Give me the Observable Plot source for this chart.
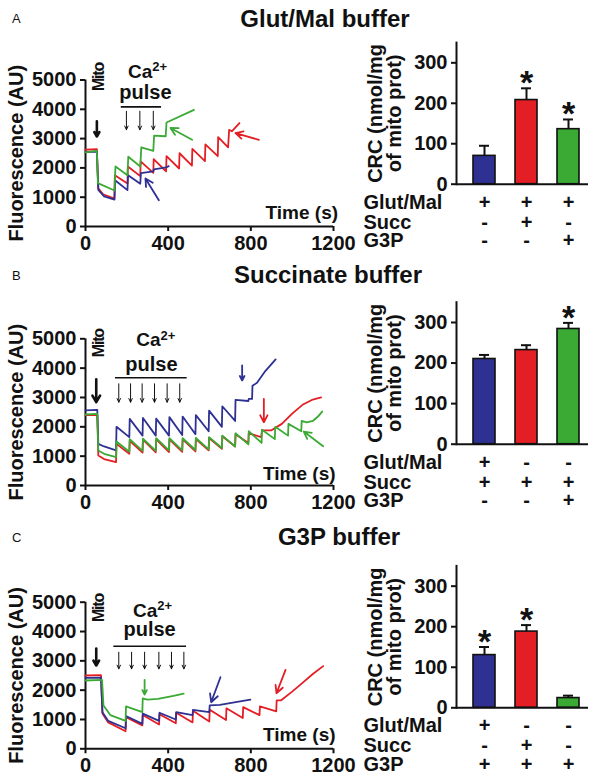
<!DOCTYPE html>
<html><head><meta charset="utf-8">
<script src="https://cdn.jsdelivr.net/npm/d3@7"></script>
<script src="https://cdn.jsdelivr.net/npm/@observablehq/plot@0.6"></script>
<style>
html,body{margin:0;padding:0;background:#fff;}
#fig{position:relative;width:597px;height:782px;overflow:hidden;font-family:"Liberation Sans",Arial,Helvetica,sans-serif;color:#111;}
#fig svg{position:absolute;overflow:visible;}
.title{position:absolute;font-weight:bold;font-size:24px;line-height:24px;white-space:nowrap;transform:translateX(-50%);}
.letter{position:absolute;font-size:13px;line-height:13px;}
</style></head><body><div id="fig"></div>
<script>
// ---------- data ----------
const seriesNames = ["Glut/Mal", "Succ", "G3P"];
const seriesColors = ["#2e3192", "#e31e24", "#3aaa35"];
const timeTicks = [0, 400, 800, 1200];
const fluoTicks = [0, 1000, 2000, 3000, 4000, 5000];
const crcTicks = [0, 100, 200, 300];
const panelTitles = ["Glut/Mal buffer", "Succinate buffer", "G3P buffer"];
const panelLetters = ["A", "B", "C"];

// Panel A traces [time s, fluorescence AU]
const traceA_GlutMal = [[0,2540],[55,2560],[62,1250],[90,1030],[140,920],[143,1580],[203,1240],[206,1750],[265,1460],[268,1820],[328,1880],[331,1950],[390,2020],[403,2060]];
const traceA_Succ = [[0,2620],[55,2640],[62,1300],[85,1100],[140,950],[142,1750],[203,1470],[205,2050],[265,1720],[267,2220],[328,1830],[330,2300],[390,1880],[392,2400],[453,1980],[455,2500],[515,2080],[517,2650],[578,2230],[580,2800],[640,2400],[642,3050],[690,2700],[695,3300],[708,3250],[745,3530]];
const traceA_G3P = [[0,2530],[55,2580],[60,1480],[140,1230],[145,2050],[203,1750],[207,2380],[265,2050],[270,2700],[328,2580],[332,3100],[388,3080],[392,3550],[525,3980]];

// Panel B traces
const traceB_GlutMal = [[0,2560],[57,2580],[62,1420],[90,1330],[148,1200],[150,2000],[212,1650],[214,2270],[276,1700],[278,2300],[340,1700],[342,2280],[404,1700],[406,2330],[468,1720],[470,2350],[532,1750],[534,2400],[596,1850],[598,2550],[660,2000],[662,2700],[724,2200],[726,2920],[788,2880],[790,2950],[806,2950],[808,3400],[830,3500],[870,3900],[920,4300]];
const traceB_Succ = [[0,2400],[57,2400],[62,1020],[90,900],[148,800],[150,1420],[212,1080],[214,1520],[276,1120],[278,1560],[340,1130],[342,1570],[404,1140],[406,1570],[468,1150],[470,1570],[532,1160],[534,1580],[596,1200],[598,1620],[660,1250],[662,1680],[724,1330],[726,1750],[788,1450],[790,1780],[850,1650],[854,1880],[900,1880],[950,2100],[1000,2450],[1050,2750],[1100,2930],[1140,3000]];
const traceB_G3P = [[0,2420],[57,2440],[62,1190],[90,1080],[148,965],[150,1500],[212,1150],[214,1580],[276,1180],[278,1600],[340,1180],[342,1610],[404,1200],[406,1610],[468,1200],[470,1610],[532,1210],[534,1620],[596,1230],[598,1650],[660,1280],[662,1700],[724,1330],[726,1780],[788,1400],[790,1850],[852,1450],[854,1900],[916,1580],[918,2000],[980,1700],[982,2100],[1044,1850],[1046,2200],[1070,2150],[1100,2200],[1125,2350],[1145,2520]];

// Panel C traces
const traceC_GlutMal = [[0,2420],[75,2430],[82,1250],[110,950],[194,700],[196,1120],[275,850],[277,1200],[356,950],[358,1230],[437,1000],[439,1250],[518,1150],[520,1330],[599,1250],[601,1480],[650,1500],[720,1580],[798,1680]];
const traceC_Succ = [[0,2500],[75,2510],[82,1200],[110,900],[194,600],[196,1080],[275,800],[277,1150],[356,830],[358,1180],[437,870],[439,1230],[518,900],[520,1300],[599,930],[601,1330],[680,980],[682,1380],[761,1050],[763,1420],[842,1150],[844,1450],[923,1280],[925,1650],[945,1650],[1000,1950],[1050,2250],[1100,2550],[1150,2820]];
const traceC_G3P = [[0,2330],[80,2350],[87,1480],[120,1150],[194,950],[196,1450],[275,1250],[277,1720],[300,1680],[350,1700],[420,1800],[475,1880]];

// Bar charts: CRC (nmol/mg of mito prot), mean and SEM
const barKeys = [0, 1, 2];
const barMeanA = [70, 208, 136];
const barSemA = [25, 29, 24];
const barStarA = ["", "*", "*"];
const barMeanB = [210, 232, 284];
const barSemB = [10, 12, 15];
const barStarB = ["", "", "*"];
const barMeanC = [130, 188, 24];
const barSemC = [20, 16, 6];
const barStarC = ["*", "*", ""];
const rowLabels = ["Glut/Mal", "Succ", "G3P"];
const signsA = [["+","+","+"],["-","+","-"],["-","-","+"]];
const signsB = [["+","-","-"],["+","+","+"],["-","-","+"]];
const signsC = [["+","-","-"],["-","+","-"],["+","+","+"]];

// Annotations (data units: time s, fluorescence AU)
const annA = {
  mito: {t: 55, v1: 3590, v2: 3070, labelT: 65, labelV: 5102},
  pulses: [198, 263, 328], pulseTop: 3933, pulseBottom: 3303,
  pulseBar: {t1: 173, t2: 368, v: 4084},
  pulseLabel: {t: 290, v: 4336},
  ca: {t: 323, v: 5082, supV: 5309},
  time: {t: 1222, v: 241},
  arrows: [{s: 2, t1: 516, v1: 2959, t2: 411, v2: 3362}, {s: 1, t1: 839, v1: 2959, t2: 726, v2: 3190}, {s: 0, t1: 355, v1: 895, t2: 290, v2: 1641}]
};
const annB = {
  mito: {t: 52, v1: 3620, v2: 2840, labelT: 65, labelV: 4850},
  pulses: [161, 218, 274, 334, 395, 456], pulseTop: 3466, pulseBottom: 2839,
  pulseBar: {t1: 145, t2: 492, v: 3670},
  pulseLabel: {t: 319, v: 3919},
  ca: {t: 363, v: 4771, supV: 4966},
  time: {t: 1210, v: 204},
  arrows: [{s: 0, t1: 758, v1: 4090, t2: 758, v2: 3580}, {s: 1, t1: 863, v1: 2955, t2: 863, v2: 2157}, {s: 2, t1: 1150, v1: 1340, t2: 1056, v2: 1840}]
};
const annC = {
  mito: {t: 52, v1: 3420, v2: 2841, labelT: 65, labelV: 4802},
  pulses: [161, 223, 286, 355, 416, 476], pulseTop: 3294, pulseBottom: 2728,
  pulseBar: {t1: 137, t2: 489, v: 3499},
  pulseLabel: {t: 310, v: 3864},
  ca: {t: 347, v: 4488, supV: 4750},
  time: {t: 1210, v: 283},
  arrows: [{s: 2, t1: 286, v1: 2353, t2: 286, v2: 1852}, {s: 0, t1: 653, v1: 2442, t2: 608, v2: 1589}, {s: 1, t1: 968, v1: 2693, t2: 924, v2: 1896}]
};

// ---------- layout ----------
const FONT = '"Liberation Sans", Arial, Helvetica, sans-serif';
const fig = document.getElementById("fig");
const rowDy = [24.5, 44.5, 63];

function place(svg, left, top) {
  svg.style.left = left + "px";
  svg.style.top = top + "px";
  fig.appendChild(svg);
}

function linePanel(cfg) {
  const {top, mTop, mBottom, traces, ann} = cfg;
  const order = [1, 0, 2];
  const marks = [
    Plot.axisY({ticks: fluoTicks, tickFormat: "d", tickSize: 5, tickPadding: 4, strokeWidth: 2, fontSize: 20, fontWeight: "bold", label: null}),
    Plot.axisX({ticks: timeTicks, tickFormat: "d", tickSize: 5, tickPadding: 4, strokeWidth: 2, fontSize: 20, fontWeight: "bold", label: null}),
    Plot.ruleY([0], {strokeWidth: 2}),
    Plot.ruleX([0], {strokeWidth: 2}),
    Plot.text(["Fluorescence (AU)"], {text: d => d, frameAnchor: "left", textAnchor: "middle", lineAnchor: "middle", dx: -69, rotate: -90, fontSize: 20, fontWeight: "bold"}),
    ...order.map(i => Plot.line(traces[i], {x: d => d[0], y: d => d[1], stroke: seriesColors[i], strokeWidth: 1.8})),
    Plot.arrow(ann.arrows, {x1: "t1", y1: "v1", x2: "t2", y2: "v2", stroke: d => seriesColors[d.s], strokeWidth: 1.8, headLength: 9, headAngle: 55}),
    Plot.arrow([ann.mito], {x1: "t", x2: "t", y1: "v1", y2: "v2", strokeWidth: 2.6, headLength: 9, headAngle: 60}),
    Plot.text([ann.mito], {x: "labelT", y: "labelV", text: () => "Mito", rotate: -90, textAnchor: "middle", lineAnchor: "middle", fontSize: 16, fontWeight: "bold"}),
    Plot.arrow(ann.pulses, {x1: d => d, x2: d => d, y1: () => ann.pulseTop, y2: () => ann.pulseBottom, strokeWidth: 1, headLength: 6, headAngle: 50}),
    Plot.ruleY([ann.pulseBar], {x1: "t1", x2: "t2", y: "v", strokeWidth: 1.6}),
    Plot.text([ann.pulseLabel], {x: "t", y: "v", text: () => "pulse", fontSize: 20, fontWeight: "bold", lineAnchor: "bottom"}),
    Plot.text([ann.ca], {x: "t", y: "v", text: () => "Ca", textAnchor: "end", fontSize: 19, fontWeight: "bold", lineAnchor: "bottom"}),
    Plot.text([ann.ca], {x: "t", y: "supV", text: () => "2+", textAnchor: "start", fontSize: 13, fontWeight: "bold", lineAnchor: "bottom"}),
    Plot.text([ann.time], {x: "t", y: "v", text: () => "Time (s)", textAnchor: "end", fontSize: 19, fontWeight: "bold", lineAnchor: "bottom"})
  ];
  const svg = Plot.plot({
    width: 345, height: 262,
    marginLeft: 85, marginRight: 12, marginTop: mTop, marginBottom: mBottom,
    x: {domain: [0, 1200]},
    y: {domain: [0, 5000]},
    style: {background: "transparent", overflow: "visible", fontFamily: FONT, color: "#111"},
    marks
  });
  d3.select(svg).selectAll("text").filter(function() { return this.textContent === "Mito"; })
    .style("letter-spacing", "-1.2px");
  place(svg, 0, top);
}

function barPanel(cfg) {
  const {top, mTop, mBottom, means, sems, stars, signs} = cfg;
  const rows = barKeys.map(k => ({k, m: means[k], e: means[k] + sems[k], s: stars[k]}));
  const marks = [
    Plot.barY(rows, {x: "k", y: "m", fill: d => seriesColors[d.k], stroke: "#111", strokeWidth: 1.6}),
    Plot.ruleX(rows, {x: "k", y1: "m", y2: "e", strokeWidth: 2}),
    Plot.tickY(rows, {x: "k", y: "e", strokeWidth: 2, insetLeft: 6, insetRight: 6}),
    Plot.text(rows.filter(d => d.s), {x: "k", y: "e", text: "s", dy: -5, fontSize: 34, fontWeight: "bold"}),
    Plot.axisY({ticks: crcTicks, tickSize: 5, tickPadding: 4, strokeWidth: 2, fontSize: 20, fontWeight: "bold", label: null}),
    Plot.frame({anchor: "left", strokeWidth: 2}),
    Plot.ruleY([0], {strokeWidth: 2}),
    Plot.text(["CRC (nmol/mg\nof mito prot)"], {text: d => d, frameAnchor: "left", textAnchor: "middle", lineAnchor: "middle", dx: -71, rotate: -90, fontSize: 20, fontWeight: "bold", lineHeight: 0.95}),
    ...rowLabels.map((lab, r) => Plot.text([lab], {y: () => 0, text: d => d, frameAnchor: "left", dx: -93, dy: rowDy[r], textAnchor: "start", lineAnchor: "bottom", fontSize: 20, fontWeight: "bold"})),
    ...rowLabels.map((lab, r) => Plot.text(barKeys, {x: d => d, y: () => 0, text: d => signs[r][d], dy: rowDy[r], lineAnchor: "bottom", fontSize: 20, fontWeight: "bold"}))
  ];
  const svg = Plot.plot({
    width: 257, height: 262,
    marginLeft: 116, marginRight: 9, marginTop: mTop, marginBottom: mBottom,
    x: {type: "band", domain: barKeys, paddingInner: 0.479, paddingOuter: 0.3035, align: 0.64, axis: null},
    y: {domain: [0, 350]},
    style: {background: "transparent", overflow: "visible", fontFamily: FONT, color: "#111"},
    marks
  });
  place(svg, 340, top);
}

function addTitle(text, cx, top) {
  const d = document.createElement("div");
  d.className = "title"; d.textContent = text;
  d.style.left = cx + "px"; d.style.top = top + "px";
  fig.appendChild(d);
}
function addLetter(text, left, top) {
  const d = document.createElement("div");
  d.className = "letter"; d.textContent = text;
  d.style.left = left + "px"; d.style.top = top + "px";
  fig.appendChild(d);
}

addTitle(panelTitles[0], 325, 6.7);
addTitle(panelTitles[1], 328, 262.7);
addTitle(panelTitles[2], 339, 524.7);
addLetter(panelLetters[0], 12, 12);
addLetter(panelLetters[1], 12, 269);
addLetter(panelLetters[2], 12, 531);

linePanel({top: 0, mTop: 79.5, mBottom: 36, traces: [traceA_GlutMal, traceA_Succ, traceA_G3P], ann: annA});
linePanel({top: 260, mTop: 78.3, mBottom: 37, traces: [traceB_GlutMal, traceB_Succ, traceB_G3P], ann: annB});
linePanel({top: 520, mTop: 81.7, mBottom: 33.7, traces: [traceC_GlutMal, traceC_Succ, traceC_G3P], ann: annC});

barPanel({top: 0, mTop: 42.1, mBottom: 78.3, means: barMeanA, sems: barSemA, stars: barStarA, signs: signsA});
barPanel({top: 260, mTop: 41.7, mBottom: 78.3, means: barMeanB, sems: barSemB, stars: barStarB, signs: signsB});
barPanel({top: 520, mTop: 45.4, mBottom: 74.7, means: barMeanC, sems: barSemC, stars: barStarC, signs: signsC});
</script></body></html>
